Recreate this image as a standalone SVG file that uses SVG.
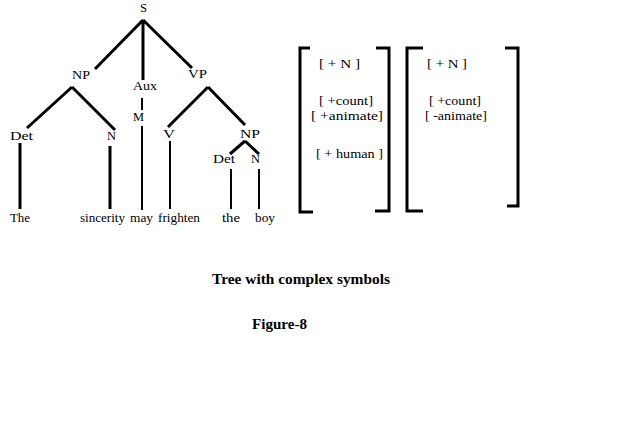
<svg xmlns="http://www.w3.org/2000/svg" width="640" height="442" viewBox="0 0 640 442">
<style>
text{font-family:"Liberation Serif","Times New Roman",serif;font-size:13px;fill:#000}
.b{font-weight:bold;font-size:15px}
.e{stroke:#000;stroke-width:3;fill:none}
.t{stroke:#000;stroke-width:2;fill:none}
.k{stroke:#000;stroke-width:3;fill:none}
</style>
<rect width="640" height="442" fill="#fff"/>
<g id="connectors">
<path class="e" d="M143,20 L95,69 M143,20 L143,80 M143,20 L192,68"/>
<path class="e" d="M72,87 L27,128 M72,87 L115,130"/>
<path class="e" d="M208,87 L168,127 M208,87 L245,125"/>
<path class="e" d="M245,141 L230,154 M245,141 L259,154"/>
<path class="t" d="M142,98 L142,110 M142,126 L142,210"/>
<path class="k" d="M20,143 L20,209 M110,146 L110,209"/>
<path class="t" d="M170,141 L170,209 M231,169 L231,209 M259,169 L259,209"/>
</g>
<g id="S"><text x="140" y="12" textLength="7" lengthAdjust="spacingAndGlyphs">S</text></g>
<g id="NP"><text x="72" y="79" textLength="18" lengthAdjust="spacingAndGlyphs">NP</text></g>
<g id="Aux"><text x="133" y="90" textLength="24" lengthAdjust="spacingAndGlyphs">Aux</text></g>
<g id="M"><text x="133" y="121" textLength="11" lengthAdjust="spacingAndGlyphs">M</text></g>
<g id="VP"><text x="188" y="78" textLength="19" lengthAdjust="spacingAndGlyphs">VP</text></g>
<g id="Det1"><text x="10" y="140" textLength="23" lengthAdjust="spacingAndGlyphs">Det</text></g>
<g id="N1"><text x="107" y="140" textLength="9" lengthAdjust="spacingAndGlyphs">N</text></g>
<g id="V"><text x="163" y="138" textLength="12" lengthAdjust="spacingAndGlyphs">V</text></g>
<g id="NP2"><text x="240" y="138" textLength="20" lengthAdjust="spacingAndGlyphs">NP</text></g>
<g id="Det2"><text x="213" y="163" textLength="22" lengthAdjust="spacingAndGlyphs">Det</text></g>
<g id="N2"><text x="251" y="163" textLength="9" lengthAdjust="spacingAndGlyphs">N</text></g>
<g id="words">
<text x="10" y="222" textLength="20" lengthAdjust="spacingAndGlyphs">The</text>
<text x="80" y="222" textLength="45" lengthAdjust="spacingAndGlyphs">sincerity</text>
<text x="130" y="222" textLength="23" lengthAdjust="spacingAndGlyphs">may</text>
<text x="158" y="222" textLength="42" lengthAdjust="spacingAndGlyphs">frighten</text>
<text x="222" y="222" textLength="18" lengthAdjust="spacingAndGlyphs">the</text>
<text x="255" y="222" textLength="20" lengthAdjust="spacingAndGlyphs">boy</text>
</g>
<g id="matrix1">
<path class="k" d="M310,48 L300,48 L300,212 L313,212 M376,48 L389,48 L389,211 L375,211"/>
<text x="319" y="68" textLength="41" lengthAdjust="spacingAndGlyphs">[ + N ]</text>
<text x="319" y="105" textLength="54" lengthAdjust="spacingAndGlyphs">[ +count]</text>
<text x="311" y="120" textLength="72" lengthAdjust="spacingAndGlyphs">[ +animate]</text>
<text x="316" y="158" textLength="67" lengthAdjust="spacingAndGlyphs">[ + human ]</text>
</g>
<g id="matrix2">
<path class="k" d="M423,48 L407,48 L407,211 L423,211 M505,48 L518,48 L518,206 L507,206"/>
<text x="427" y="68" textLength="40" lengthAdjust="spacingAndGlyphs">[ + N ]</text>
<text x="429" y="105" textLength="52" lengthAdjust="spacingAndGlyphs">[ +count]</text>
<text x="425" y="120" textLength="62" lengthAdjust="spacingAndGlyphs">[ -animate]</text>
</g>
<g id="caption">
<text class="b" x="212" y="284" textLength="178" lengthAdjust="spacingAndGlyphs">Tree with complex symbols</text>
<text class="b" x="252" y="329" textLength="55" lengthAdjust="spacingAndGlyphs">Figure-8</text>
</g>
</svg>
